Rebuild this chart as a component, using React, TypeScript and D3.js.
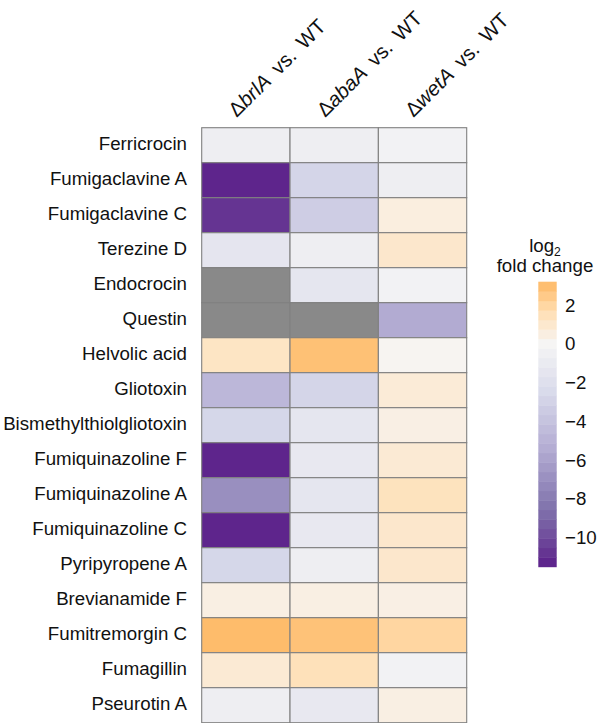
import React from "react";
import * as d3 from "d3";

const compounds = [
  "Ferricrocin",
  "Fumigaclavine A",
  "Fumigaclavine C",
  "Terezine D",
  "Endocrocin",
  "Questin",
  "Helvolic acid",
  "Gliotoxin",
  "Bismethylthiolgliotoxin",
  "Fumiquinazoline F",
  "Fumiquinazoline A",
  "Fumiquinazoline C",
  "Pyripyropene A",
  "Brevianamide F",
  "Fumitremorgin C",
  "Fumagillin",
  "Pseurotin A",
];

const mutants = ["brlA", "abaA", "wetA"];

const brlA: (number | null)[] = [-0.65, -11.3, -10.8, -1.45, null, null, 1.25, -4.7, -2.7, -11.3, -7.0, -11.3, -2.7, 0.45, 3.05, 0.83, -0.65];
const abaA: (number | null)[] = [-0.65, -2.8, -3.3, -0.65, -1.4, null, 2.85, -2.8, -1.4, -1.2, -1.4, -1.2, -0.65, 0.45, 2.8, 1.5, -1.2];
const wetA: (number | null)[] = [-0.3, -0.65, 0.56, 1.04, -0.3, -5.5, 0.1, 0.77, 0.42, 0.83, 1.39, 1.04, 1.04, 0.42, 2.0, -0.3, 0.45];

const seriesValues = [brlA, abaA, wetA];

const legendTicks = [2, 0, -2, -4, -6, -8, -10];
const legendLimits = [-11.5, 3.2];

const colorStops = [-11.5, -8.5, -5.5, -2.5, 0, 1.6, 3.2];
const colorRange = ["#5b1e8a", "#8073ac", "#b2abd2", "#d8daeb", "#f6f5f5", "#fee0b6", "#fdb863"];

const FONT = "'Liberation Sans', Arial, Helvetica, sans-serif";
const FS = 18.7;
const HFS = 20.5;

export default function App() {
  const color = d3
    .scaleLinear<string>()
    .domain(colorStops)
    .range(colorRange)
    .interpolate(d3.interpolateLab)
    .clamp(true);

  const x = d3.scaleBand().domain(mutants).range([201.7, 466.7]);
  const y = d3.scaleBand().domain(compounds).range([127.7, 127.7 + 35 * compounds.length]);

  const legendY = d3.scaleLinear().domain(legendLimits).range([566.7, 281.7]);
  const nBins = 30;
  const bins = d3.range(nBins).map((i) => {
    const v0 = legendLimits[0] + ((legendLimits[1] - legendLimits[0]) * i) / nBins;
    const v1 = legendLimits[0] + ((legendLimits[1] - legendLimits[0]) * (i + 1)) / nBins;
    return { v0, v1, c: color((v0 + v1) / 2) };
  });

  const cells: { m: string; c: string; v: number | null }[] = [];
  mutants.forEach((m, j) => {
    compounds.forEach((c, i) => {
      cells.push({ m, c, v: seriesValues[j][i] });
    });
  });

  return (
    <svg
      width={600}
      height={723}
      style={{ position: "absolute", left: 0, top: 0, background: "#fff" }}
      fontFamily={FONT}
    >
      {cells.map((d, k) => (
        <rect
          key={k}
          x={x(d.m)}
          y={y(d.c)}
          width={x.bandwidth()}
          height={y.bandwidth()}
          fill={d.v === null ? "#898989" : color(d.v)}
          stroke="#808080"
          strokeWidth={1.1}
        />
      ))}
      {compounds.map((c) => (
        <text
          key={c}
          x={187}
          y={(y(c) as number) + y.bandwidth() / 2 + 5}
          textAnchor="end"
          fontSize={FS}
          fill="#111"
        >
          {c}
        </text>
      ))}
      {mutants.map((m) => {
        const cx = (x(m) as number) + x.bandwidth() / 2 - 9;
        const cy = 118;
        return (
          <text
            key={m}
            transform={`translate(${cx},${cy}) rotate(-45)`}
            fontSize={HFS}
            fill="#111"
            style={{ wordSpacing: "4px" }}
          >
            <tspan>Δ</tspan>
            <tspan fontStyle="italic">{m}</tspan>
            <tspan> vs. WT</tspan>
          </text>
        );
      })}
      <text x={545} y={251.7} textAnchor="middle" fontSize={FS} fill="#111">
        log
        <tspan fontSize={FS * 0.65} dy={4}>
          2
        </tspan>
      </text>
      <text x={545} y={271.7} textAnchor="middle" fontSize={FS} fill="#111">
        fold change
      </text>
      {bins.map((b, i) => (
        <rect
          key={i}
          x={538.3}
          y={legendY(b.v1)}
          width={18.4}
          height={legendY(b.v0) - legendY(b.v1) + 0.5}
          fill={b.c}
        />
      ))}
      {legendTicks.map((t) => (
        <text
          key={t}
          x={565}
          y={legendY(t)}
          dy="0.35em"
          fontSize={FS}
          fill="#111"
        >
          {t < 0 ? `\u2212${Math.abs(t)}` : `${t}`}
        </text>
      ))}
    </svg>
  );
}
